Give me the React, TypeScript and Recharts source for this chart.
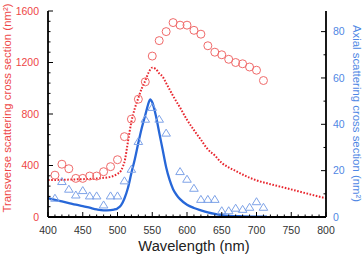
import React from 'react';
import {
    ComposedChart,
    Line,
    Scatter,
    XAxis,
    YAxis,
} from 'recharts';

// measured points (open symbols)
const measuredWl = [410, 420, 430, 440, 450, 460, 470, 480, 490, 500, 510, 520, 530, 540, 550, 560, 570, 580, 590, 600, 610, 620, 630, 640, 650, 660, 670, 680, 690, 700, 710];
const transverseMeasured = [325, 410, 375, 300, 300, 318, 318, 352, 391, 445, 624, 760, 915, 1050, 1250, 1370, 1440, 1510, 1490, 1490, 1450, 1420, 1330, 1280, 1260, 1225, 1200, 1190, 1165, 1140, 1060];

const axialWl = [410, 420, 430, 440, 450, 460, 470, 480, 490, 500, 510, 520, 530, 540, 550, 560, 570, 590, 600, 610, 620, 630, 640, 650, 660, 670, 680, 690, 700, 710];
const axialMeasured = [8.1, 15.3, 12, 9.5, 11.4, 9.1, 9.1, 5.2, 9.1, 9.1, 15.6, 20.6, 32.6, 42.2, 47.3, 42.2, 36.2, 19.6, 16.3, 12.4, 7.6, 7.6, 7.6, 2.7, 2.7, 3.8, 3.3, 4.2, 6.6, 4.2];

// calculated curves
const transverseWl = [400, 420, 440, 460, 480, 490, 495, 500, 505, 508, 511, 514, 517, 520, 525, 530, 535, 540, 545, 550, 555, 560, 565, 570, 575, 580, 590, 600, 610, 620, 630, 640, 650, 660, 670, 680, 690, 700, 720, 740, 760, 780, 800];
const transverseCalc = [287, 289, 292, 296, 304, 312, 320, 335, 360, 395, 450, 550, 650, 740, 845, 925, 1000, 1060, 1125, 1160, 1150, 1115, 1090, 1040, 990, 940, 850, 755, 675, 600, 525, 478, 420, 385, 358, 330, 305, 285, 255, 228, 200, 172, 145];

const axialCalcWl = [400, 410, 420, 430, 440, 450, 460, 470, 480, 490, 495, 500, 505, 510, 515, 520, 525, 530, 535, 540, 545, 547, 550, 555, 560, 565, 570, 575, 580, 585, 590, 600, 610, 620, 630, 640, 650, 660, 680, 700, 715];
const axialCalc = [8.1, 7.4, 6.7, 6.0, 5.3, 4.7, 4.0, 3.3, 2.9, 3.0, 3.2, 3.7, 5, 8, 12.5, 19, 25, 32, 38.5, 44, 49.5, 50.8, 49.5, 44, 36.5, 29, 21.5, 16, 12, 9.5, 7.7, 5.3, 3.9, 2.9, 2.0, 1.3, 0.8, 0.5, 0.3, 0.2, 0.2];

const xTicks = [400, 450, 500, 550, 600, 650, 700, 750, 800];
const xMinorTicks = Array.from({ length: 41 }, (_, i) => 400 + i * 10);
const leftTicks = [0, 400, 800, 1200, 1600];
const leftMinorTicks = Array.from({ length: 21 }, (_, i) => i * 80);
const rightTicks = [0, 20, 40, 60, 80];
const rightMinorTicks = [0, 10, 20, 30, 40, 50, 60, 70, 80];

const RED = '#e8262e';
const RED_TEXT = '#ee4646';
const RED_LIGHT = '#f06a6a';
const BLUE = '#2767d8';
const BLUE_TEXT = '#4f87e4';
const BLUE_LIGHT = '#7ea3e8';

const transverseMeasuredData = measuredWl.map((wl, i) => ({ wl, v: transverseMeasured[i] }));
const axialMeasuredData = axialWl.map((wl, i) => ({ wl, v: axialMeasured[i] }));
const transverseCalcData = transverseWl.map((wl, i) => ({ wl, v: transverseCalc[i] }));
const axialCalcData = axialCalcWl.map((wl, i) => ({ wl, v: axialCalc[i] }));

const OpenCircle = (props: any) => (
    <circle cx={props.cx} cy={props.cy} r={4} fill="none" stroke={RED_LIGHT} strokeWidth={1} />
);

const OpenTriangle = (props: any) => {
    const { cx, cy } = props;
    return (
        <polygon
            points={`${cx},${cy - 4} ${cx - 4.3},${cy + 3} ${cx + 4.3},${cy + 3}`}
            fill="none"
            stroke={BLUE_LIGHT}
            strokeWidth={1}
        />
    );
};

const FONT = '"Liberation Sans", Arial, sans-serif';
const MAJOR = 5;
const MINOR = 2.5;

// ticks point into the plot; labels only on the major ones
const BottomTick = (p: any) => {
    const { x, y, payload } = p;
    const base = y - 10;
    const major = xTicks.includes(payload.value);
    return (
        <g>
            <line x1={x} x2={x} y1={base} y2={base - (major ? MAJOR : MINOR)} stroke="#000" />
            {major && (
                <text x={x} y={y} dy="0.71em" textAnchor="middle" fontSize={10.5} fill="#333">
                    {payload.value}
                </text>
            )}
        </g>
    );
};

const TopTick = (p: any) => {
    const { x, y, payload } = p;
    const major = xTicks.includes(payload.value);
    return <line x1={x} x2={x} y1={y} y2={y + (major ? MAJOR : MINOR)} stroke="#000" />;
};

const LeftTick = (p: any) => {
    const { x, y, payload } = p;
    const base = x + 9;
    const major = leftTicks.includes(payload.value);
    return (
        <g>
            <line x1={base} x2={base + (major ? MAJOR : MINOR)} y1={y} y2={y} stroke="#000" />
            {major && (
                <text x={x} y={y} dy="0.355em" textAnchor="end" fontSize={10.5} fill={RED_TEXT}>
                    {payload.value}
                </text>
            )}
        </g>
    );
};

const RightTick = (p: any) => {
    const { x, y, payload } = p;
    const base = x - 7;
    const major = rightTicks.includes(payload.value);
    return (
        <g>
            <line x1={base} x2={base - (major ? MAJOR : MINOR)} y1={y} y2={y} stroke="#000" />
            {major && (
                <text x={x} y={y} dy="0.355em" textAnchor="start" fontSize={10.5} fill={BLUE_TEXT}>
                    {payload.value}
                </text>
            )}
        </g>
    );
};

const frame = { stroke: '#000', strokeWidth: 1.8 };

export default function App() {
    return (
        <div style={{ position: 'absolute', left: 0, top: 0, width: 363, height: 255, background: '#fff' }}>
            <ComposedChart
                width={363}
                height={255}
                margin={{ top: 11, right: 0, bottom: 0, left: 0 }}
                style={{ fontFamily: FONT }}
            >
                <XAxis
                    xAxisId="x"
                    dataKey="wl"
                    type="number"
                    domain={[400, 800]}
                    allowDataOverflow
                    ticks={xMinorTicks}
                    interval={0}
                    height={38}
                    tickLine={false}
                    tickSize={0}
                    tickMargin={10}
                    axisLine={frame}
                    tick={<BottomTick />}
                />
                <XAxis
                    xAxisId="t"
                    dataKey="wl"
                    orientation="top"
                    type="number"
                    domain={[400, 800]}
                    allowDataOverflow
                    ticks={xMinorTicks}
                    interval={0}
                    height={0}
                    tickLine={false}
                    tickSize={0}
                    tickMargin={0}
                    axisLine={frame}
                    tick={<TopTick />}
                />
                <YAxis
                    yAxisId="L"
                    type="number"
                    domain={[0, 1600]}
                    allowDataOverflow
                    ticks={leftMinorTicks}
                    interval={0}
                    width={48}
                    tickLine={false}
                    tickSize={0}
                    tickMargin={9}
                    axisLine={frame}
                    tick={<LeftTick />}
                />
                <YAxis
                    yAxisId="R"
                    orientation="right"
                    type="number"
                    domain={[0, 88.9]}
                    allowDataOverflow
                    ticks={rightMinorTicks}
                    interval={0}
                    width={37}
                    tickLine={false}
                    tickSize={0}
                    tickMargin={7}
                    axisLine={frame}
                    tick={<RightTick />}
                />

                <Line
                    xAxisId="x"
                    yAxisId="L"
                    data={transverseCalcData}
                    dataKey="v"
                    type="monotone"
                    stroke={RED}
                    strokeWidth={2}
                    strokeDasharray="1.6 1.6"
                    dot={false}
                    isAnimationActive={false}
                />
                <Line
                    xAxisId="x"
                    yAxisId="R"
                    data={axialCalcData}
                    dataKey="v"
                    type="monotone"
                    stroke={BLUE}
                    strokeWidth={2.3}
                    dot={false}
                    isAnimationActive={false}
                />
                <Scatter
                    xAxisId="t"
                    yAxisId="L"
                    data={transverseMeasuredData}
                    dataKey="v"
                    shape={OpenCircle}
                    isAnimationActive={false}
                />
                <Scatter
                    xAxisId="t"
                    yAxisId="R"
                    data={axialMeasuredData}
                    dataKey="v"
                    shape={OpenTriangle}
                    isAnimationActive={false}
                />
            </ComposedChart>
            <svg
                width={363}
                height={255}
                style={{ position: 'absolute', left: 0, top: 0, pointerEvents: 'none', fontFamily: FONT }}
            >
                <text x={194} y={251} textAnchor="middle" fontSize={14.7} fill="#222">
                    Wavelength (nm)
                </text>
                <text
                    transform="translate(10.5, 108) rotate(-90)"
                    textAnchor="middle"
                    fontSize={11.4}
                    fill={RED_TEXT}
                >
                    Transverse scattering cross section (nm²)
                </text>
                <text
                    transform="translate(353, 113.5) rotate(90)"
                    textAnchor="middle"
                    fontSize={11.4}
                    fill={BLUE_TEXT}
                >
                    Axial scattering cross section (nm²)
                </text>
            </svg>
        </div>
    );
}
